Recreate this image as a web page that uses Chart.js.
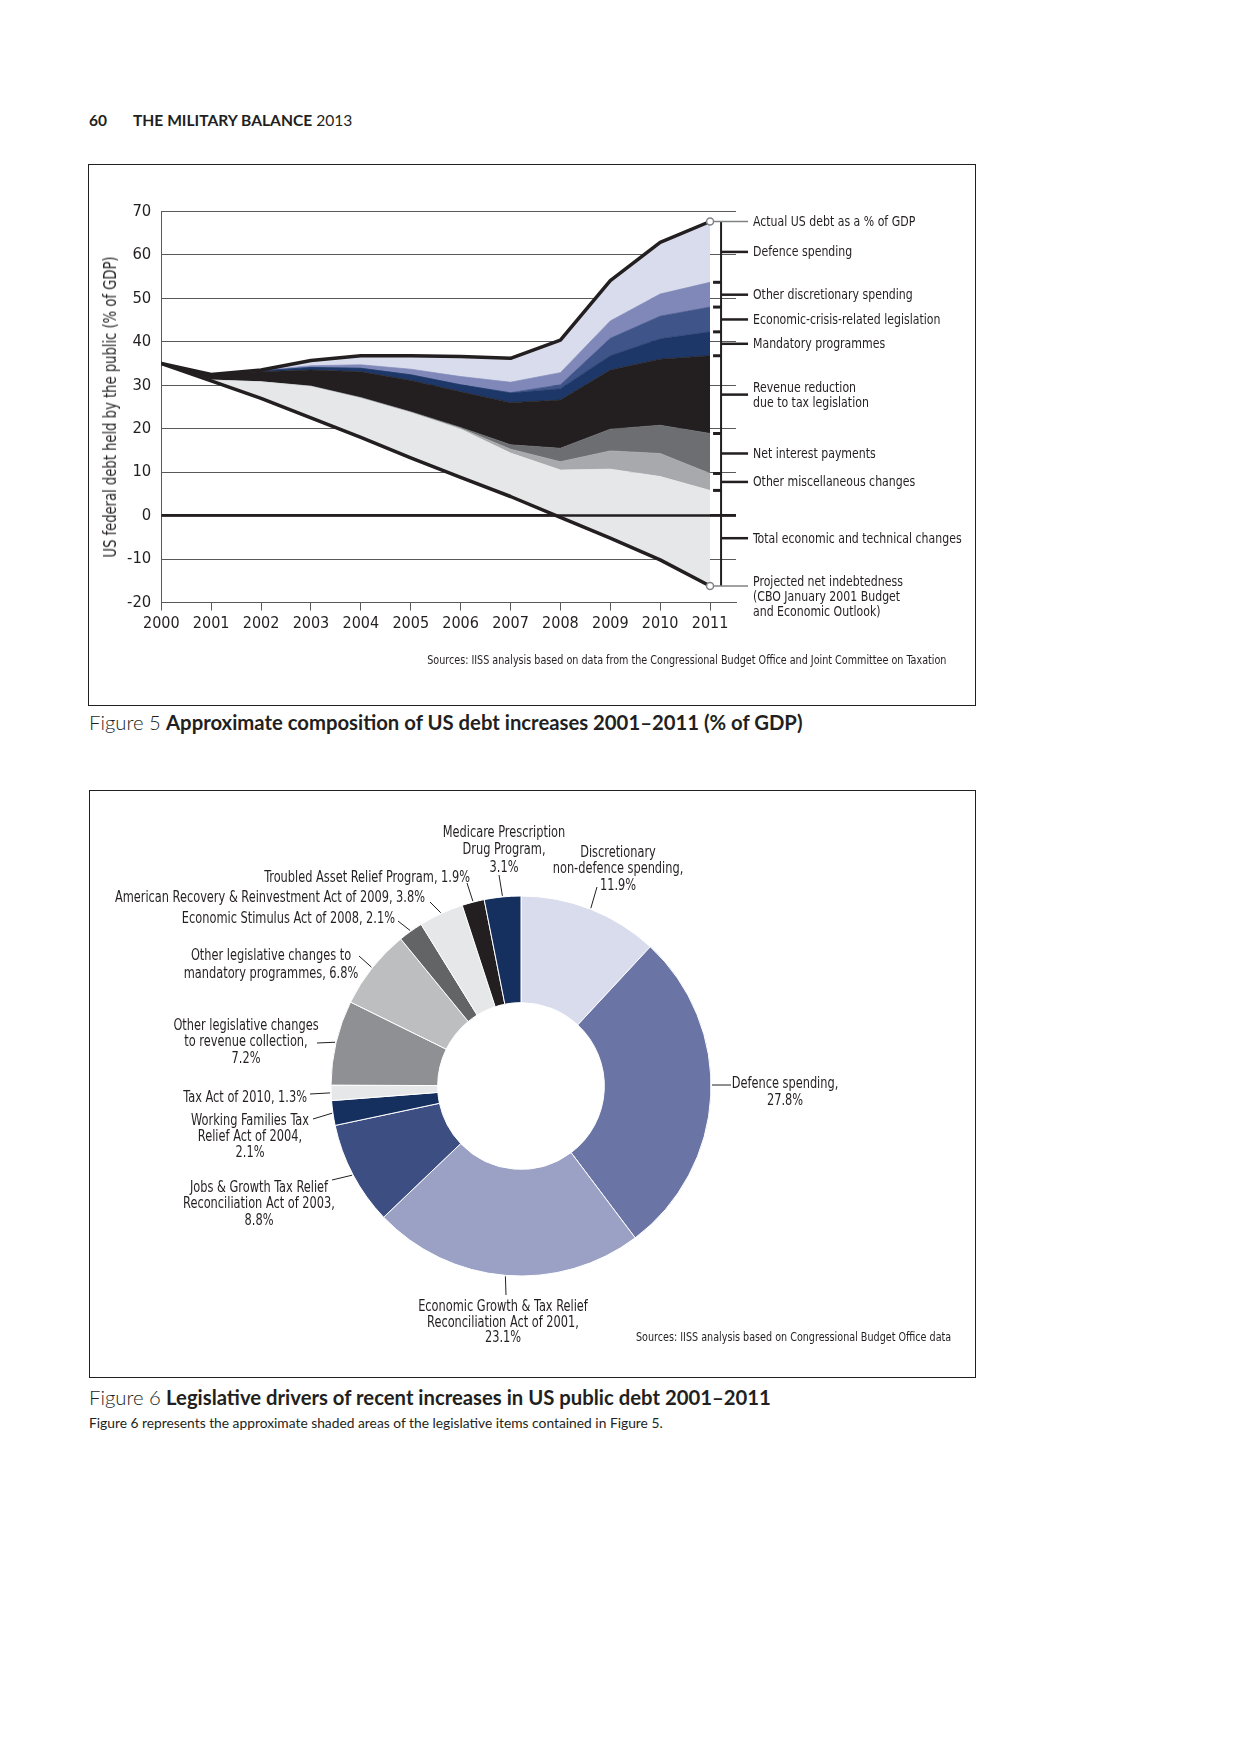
<!DOCTYPE html>
<html>
<head>
<meta charset="utf-8">
<title>The Military Balance 2013 – Figures 5 and 6</title>
<script src="https://cdn.jsdelivr.net/npm/chart.js@4.4.1/dist/chart.umd.min.js"></script>
<style>
  html, body { margin: 0; padding: 0; background: #fff; }
  #page { position: relative; width: 1240px; height: 1754px; overflow: hidden; background: #fff; color: #231f20;
          font-family: 'DejaVu Sans Condensed', 'Liberation Sans Narrow', sans-serif; }
  .abs { position: absolute; white-space: nowrap; }
  .box { position: absolute; border: 1px solid #231f20; box-sizing: border-box; }
  .book { font-family: Lato, 'Open Sans', sans-serif; }
  .caption { font-size: 20.3px; line-height: 24px; }
  .caption .light { font-weight: 300; }
  .caption b { font-weight: 700; }
  .src { font-size: 12px; line-height: 14px; transform: scaleX(0.89); transform-origin: right center; }
  canvas { position: absolute; }
</style>
</head>
<body>
<div id="page">
  <div class="abs book" style="left:89px;top:111px;font-size:15.5px;line-height:18px;font-weight:700;">60</div>
  <div class="abs book" style="left:133px;top:111px;font-size:15.6px;line-height:18px;"><b>THE MILITARY BALANCE</b> 2013</div>

  <div class="box" style="left:88px;top:164px;width:888px;height:542px;"></div>
  <canvas id="fig5" width="884" height="537" style="left:90px;top:166px;"></canvas>
  <div class="abs src" style="right:294px;top:653px;">Sources: IISS analysis based on data from the Congressional Budget Office and Joint Committee on Taxation</div>
  <div class="abs book caption" style="left:89px;top:710px;"><span class="light">Figure 5</span> <b>Approximate composition of US debt increases 2001–2011 (% of GDP)</b></div>

  <div class="box" style="left:89px;top:790px;width:887px;height:588px;"></div>
  <canvas id="fig6" width="884" height="585" style="left:90px;top:791px;"></canvas>
  <div class="abs src" style="right:289px;top:1330px;">Sources: IISS analysis based on Congressional Budget Office data</div>
  <div class="abs book caption" style="left:89px;top:1385px;"><span class="light">Figure 6</span> <b>Legislative drivers of recent increases in US public debt 2001–2011</b></div>
  <div class="abs book" style="left:89px;top:1415px;font-size:13.8px;line-height:16px;">Figure 6 represents the approximate shaded areas of the legislative items contained in Figure 5.</div>
</div>

<script>
// ---------- Figure 5: composition of US debt (% of GDP) ----------
const years = [2000, 2001, 2002, 2003, 2004, 2005, 2006, 2007, 2008, 2009, 2010, 2011];
const yTicks = [-20, -10, 0, 10, 20, 30, 40, 50, 60, 70];

// CBO January 2001 projection of net indebtedness
const projectedDebt = [35, 31.0, 27.0, 22.5, 18.0, 13.3, 8.8, 4.4, -0.4, -5.2, -10.2, -16.2];

// contributions piled on top of the projection, bottom to top
const econTechnical = [0, 0.2, 3.8, 7.2, 9.0, 10.4, 11.1, 10.0, 10.9, 15.9, 19.2, 22.0];
const otherMisc     = [0, 0, 0, 0.1, 0.1, 0.1, 0.2, 0.9, 1.9, 4.2, 5.3, 3.9];
const netInterest   = [0, 0, 0, 0, 0.1, 0.1, 0.2, 1.0, 3.1, 5.0, 6.5, 9.2];
const revenueCuts   = [0, 1.3, 2.3, 3.7, 5.9, 7.2, 8.2, 9.7, 11.1, 13.6, 15.2, 17.9];
const mandatoryProg = [0, 0, 0.2, 0.6, 0.8, 1.3, 1.6, 2.2, 2.6, 3.3, 4.7, 5.5];
const crisisLaw     = [0, 0, 0, 0, 0, 0, 0, 0.1, 0.9, 4.0, 5.2, 5.7];
const otherDiscr    = [0, 0, 0.1, 0.4, 0.8, 1.3, 1.9, 2.4, 2.8, 4.0, 5.1, 5.7];
const defenceSpend  = [0, 0, 0.1, 1.2, 2.1, 3.1, 4.6, 5.5, 7.5, 9.3, 11.9, 14.0];

const layerNames = [
  'Total economic and technical changes',
  'Other miscellaneous changes',
  'Net interest payments',
  'Revenue reduction\ndue to tax legislation',
  'Mandatory programmes',
  'Economic-crisis-related legislation',
  'Other discretionary spending',
  'Defence spending'
];
const actualName = 'Actual US debt as a % of GDP';
const projectedName = 'Projected net indebtedness\n(CBO January 2001 Budget\nand Economic Outlook)';
const yTitle = 'US federal debt held by the public (% of GDP)';

// ---------- Figure 6: legislative drivers (% share) ----------
const drivers = [
  'Discretionary non-defence spending',
  'Defence spending',
  'Economic Growth & Tax Relief Reconciliation Act of 2001',
  'Jobs & Growth Tax Relief Reconciliation Act of 2003',
  'Working Families Tax Relief Act of 2004',
  'Tax Act of 2010',
  'Other legislative changes to revenue collection',
  'Other legislative changes to mandatory programmes',
  'Economic Stimulus Act of 2008',
  'American Recovery & Reinvestment Act of 2009',
  'Troubled Asset Relief Program',
  'Medicare Prescription Drug Program'
];
const shares = [11.9, 27.8, 23.1, 8.8, 2.1, 1.3, 7.2, 6.8, 2.1, 3.8, 1.9, 3.1];

// ---------- styles ----------
const COND = "'DejaVu Sans Condensed', 'Liberation Sans Narrow', sans-serif";
const INK = '#231f20';
const GRID = '#58595b';
const layerColors = ['#e6e7e8', '#a7a9ac', '#6d6e71', '#231f20', '#1d3868', '#3f5489', '#7f88b8', '#d9dcec'];
const sliceColors = ['#d9dcec', '#6a74a5', '#9aa1c5', '#3d4e83', '#15305f', '#e6e7e8',
                     '#8f9093', '#bcbec0', '#636466', '#e6e7e8', '#231f20', '#15305f'];

const FIG5 = { left: 90, top: 166 };
const FIG6 = { left: 90, top: 791 };

// label layout for the doughnut ('#' is replaced by the share);
// flat: leader runs horizontally from the ring edge
const driverLabels = [
  { lines: ['Discretionary', 'non-defence spending,', '#'], x: 618, y: 852, lh: 16.5, align: 'center', anchor: [597, 887] },
  { lines: ['Defence spending,', '#'], x: 785, y: 1082, lh: 17, align: 'center', anchor: [731, 1085], flat: true },
  { lines: ['Economic Growth & Tax Relief', 'Reconciliation Act of 2001,', '#'], x: 503, y: 1306, lh: 15.5, align: 'center', anchor: [506, 1295] },
  { lines: ['Jobs & Growth Tax Relief', 'Reconciliation Act of 2003,', '#'], x: 259, y: 1187, lh: 16.5, align: 'center', anchor: [332, 1180] },
  { lines: ['Working Families Tax', 'Relief Act of 2004,', '#'], x: 250, y: 1120, lh: 16, align: 'center', anchor: [313, 1119] },
  { lines: ['Tax Act of 2010, #'], x: 307, y: 1096.5, lh: 16, align: 'right', anchor: [310, 1094] },
  { lines: ['Other legislative changes', 'to revenue collection,', '#'], x: 246, y: 1025, lh: 16.7, align: 'center', anchor: [317, 1043] },
  { lines: ['Other legislative changes to', 'mandatory programmes, #'], x: 271, y: 955, lh: 18, align: 'center', anchor: [359, 956] },
  { lines: ['Economic Stimulus Act of 2008, #'], x: 395, y: 917.7, lh: 16, align: 'right', anchor: [398, 921] },
  { lines: ['American Recovery & Reinvestment Act of 2009, #'], x: 425, y: 897.3, lh: 16, align: 'right', anchor: [430, 902] },
  { lines: ['Troubled Asset Relief Program, #'], x: 470, y: 876.7, lh: 16, align: 'right', anchor: [467, 883] },
  { lines: ['Medicare Prescription', 'Drug Program,', '#'], x: 504, y: 831.5, lh: 17.5, align: 'center', anchor: [499, 875] }
];

Chart.defaults.font.family = COND;
Chart.defaults.color = INK;

const page = document.getElementById('page');

// places a block of condensed text; y is the centre of the first line
function placeText(lines, x, y, align, lh, size, squeeze) {
  const div = document.createElement('div');
  div.className = 'abs';
  div.style.left = x + 'px';
  div.style.top = (y - lh / 2) + 'px';
  div.style.fontSize = size + 'px';
  div.style.lineHeight = lh + 'px';
  div.style.textAlign = align;
  if (align === 'center') {
    div.style.transformOrigin = 'center center';
    div.style.transform = 'translateX(-50%) scaleX(' + squeeze + ')';
  } else if (align === 'right') {
    div.style.transformOrigin = 'right center';
    div.style.transform = 'translateX(-100%) scaleX(' + squeeze + ')';
  } else {
    div.style.transformOrigin = 'left center';
    div.style.transform = 'scaleX(' + squeeze + ')';
  }
  lines.forEach((t, i) => {
    if (i) div.appendChild(document.createElement('br'));
    div.appendChild(document.createTextNode(t));
  });
  page.appendChild(div);
  return div;
}

// ---------- build the boundaries of each band ----------
const layers = [econTechnical, otherMisc, netInterest, revenueCuts, mandatoryProg, crisisLaw, otherDiscr, defenceSpend];
const bounds = [];
let running = projectedDebt.slice();
layers.forEach(l => {
  running = running.map((v, i) => +(v + l[i]).toFixed(2));
  bounds.push(running);
});
const actualDebt = bounds[bounds.length - 1];
const last = years.length - 1;
const pts = arr => arr.map((v, i) => ({ x: years[i], y: v }));

const endCircle = c => (c.dataIndex === last ? 3.5 : 0);
const heavyLine = {
  borderColor: INK, borderWidth: 3.5, fill: false,
  pointRadius: endCircle, pointBackgroundColor: '#ffffff', pointBorderColor: '#808285', pointBorderWidth: 1.5,
  borderJoinStyle: 'round', borderCapStyle: 'round'
};

const datasets5 = [
  Object.assign({ label: actualName, data: pts(actualDebt) }, heavyLine),
  Object.assign({ label: projectedName, data: pts(projectedDebt) }, heavyLine)
];
layers.forEach((l, k) => {
  datasets5.push({
    label: layerNames[k],
    data: pts(bounds[k]),
    backgroundColor: layerColors[k],
    borderColor: layerColors[k],
    borderWidth: 0.75,
    pointRadius: 0,
    fill: k + 1
  });
});

// zero line on top of the areas + the bracket of labels on the right
const bracketPlugin = {
  id: 'bracket',
  afterDatasetsDraw(chart) {
    const { ctx, chartArea, scales: { x, y } } = chart;
    const seg = (x1, y1, x2, y2) => { ctx.beginPath(); ctx.moveTo(x1, y1); ctx.lineTo(x2, y2); ctx.stroke(); };
    ctx.save();
    ctx.strokeStyle = INK;
    ctx.lineWidth = 2.5;
    const y0 = y.getPixelForValue(0);
    seg(chartArea.left, y0, chartArea.right, y0);

    const xe = x.getPixelForValue(years[last]);
    const bx = xe + 11;
    const yTop = y.getPixelForValue(actualDebt[last]);
    const yBot = y.getPixelForValue(projectedDebt[last]);
    ctx.lineWidth = 2;
    seg(bx, yTop, bx, yBot);
    ctx.lineWidth = 3;
    bounds.slice(0, -1).forEach(b => {
      const py = y.getPixelForValue(b[last]);
      seg(xe + 3, py, bx, py);
    });
    ctx.lineWidth = 2.5;
    layers.forEach((l, k) => {
      const lo = k === 0 ? projectedDebt[last] : bounds[k - 1][last];
      const py = y.getPixelForValue((lo + bounds[k][last]) / 2);
      seg(bx, py, bx + 27, py);
    });
    ctx.strokeStyle = '#808285';
    ctx.lineWidth = 1.5;
    seg(xe + 4, yTop, bx + 27, yTop);
    seg(xe + 4, yBot, bx + 27, yBot);
    ctx.restore();
  }
};

const fig5 = new Chart(document.getElementById('fig5'), {
  type: 'line',
  data: { datasets: datasets5 },
  options: {
    responsive: false,
    animation: false,
    events: [],
    layout: { padding: { left: 0, top: 45.5, right: 238, bottom: 0 } },
    elements: { line: { tension: 0 } },
    plugins: { legend: { display: false }, tooltip: { enabled: false } },
    scales: {
      x: {
        type: 'linear',
        min: years[0],
        max: 2011.52,
        afterBuildTicks: s => { s.ticks = years.map(v => ({ value: v })); },
        afterFit: s => { s.height = 100.5; },
        grid: { drawOnChartArea: false, drawTicks: true, tickLength: 8, color: GRID, lineWidth: 1 },
        border: { display: true, color: GRID, width: 1 },
        ticks: { font: { size: 16 }, padding: 4, maxRotation: 0, autoSkip: false, callback: v => String(v) }
      },
      y: {
        min: yTicks[0],
        max: yTicks[yTicks.length - 1],
        afterBuildTicks: s => { s.ticks = yTicks.map(v => ({ value: v })); },
        afterFit: s => { s.width = 71.3; },
        grid: {
          drawTicks: false,
          color: c => (c.tick && c.tick.value === 0 ? INK : GRID),
          lineWidth: c => (c.tick && c.tick.value === 0 ? 2.5 : 1)
        },
        border: { display: true, color: GRID, width: 1 },
        ticks: { font: { size: 16.5 }, padding: 10, callback: v => String(v) },
        title: { display: false }
      }
    }
  },
  plugins: [bracketPlugin]
});

// axis title and the labels to the right of the bracket, placed from the scales
(function () {
  const x = fig5.scales.x, y = fig5.scales.y;
  const t = placeText([yTitle], 0, 0, 'left', 20, 17, 1);
  t.style.left = (FIG5.left + 20) + 'px';
  t.style.top = (FIG5.top + (y.top + y.bottom) / 2) + 'px';
  t.style.transformOrigin = 'center center';
  t.style.transform = 'translate(-50%, -50%) rotate(-90deg) scaleX(0.86)';

  const lx = FIG5.left + x.getPixelForValue(years[last]) + 43;
  const lh = 15;
  const sz = 14.5, sq = 0.84;
  placeText([actualName], lx, FIG5.top + y.getPixelForValue(actualDebt[last]), 'left', lh, sz, sq);
  layers.forEach((l, k) => {
    const lo = k === 0 ? projectedDebt[last] : bounds[k - 1][last];
    const lines = layerNames[k].split('\n');
    const mid = FIG5.top + y.getPixelForValue((lo + bounds[k][last]) / 2);
    placeText(lines, lx, mid - (lines.length - 1) * lh / 2, 'left', lh, sz, sq);
  });
  placeText(projectedName.split('\n'), lx, FIG5.top + y.getPixelForValue(projectedDebt[last]) - 4, 'left', lh, sz, sq);
})();

// ---------- Figure 6 doughnut ----------
const leaderPlugin = {
  id: 'leaders',
  afterDatasetsDraw(chart) {
    const { ctx } = chart;
    const arcs = chart.getDatasetMeta(0).data;
    ctx.save();
    ctx.strokeStyle = INK;
    ctx.lineWidth = 1;
    arcs.forEach((arc, i) => {
      const p = arc.getProps(['x', 'y', 'startAngle', 'endAngle', 'outerRadius']);
      const d = driverLabels[i];
      const ax = d.anchor[0] - FIG6.left, ay = d.anchor[1] - FIG6.top;
      const r = p.outerRadius + 1;
      let sx, sy;
      if (d.flat) {
        const dy = ay - p.y;
        sx = p.x + Math.sign(ax - p.x) * Math.sqrt(Math.max(r * r - dy * dy, 0));
        sy = ay;
      } else {
        const mid = (p.startAngle + p.endAngle) / 2;
        sx = p.x + Math.cos(mid) * r;
        sy = p.y + Math.sin(mid) * r;
      }
      ctx.beginPath();
      ctx.moveTo(sx, sy);
      ctx.lineTo(ax, ay);
      ctx.stroke();
    });
    ctx.restore();
  }
};

new Chart(document.getElementById('fig6'), {
  type: 'doughnut',
  data: {
    labels: drivers,
    datasets: [{
      data: shares,
      backgroundColor: sliceColors,
      borderColor: '#ffffff',
      borderWidth: 1,
      radius: 190,
      cutout: 127
    }]
  },
  options: {
    responsive: false,
    animation: false,
    events: [],
    rotation: 0,
    layout: { padding: { left: 0, right: 22, top: 5, bottom: 0 } },
    plugins: { legend: { display: false }, tooltip: { enabled: false } }
  },
  plugins: [leaderPlugin]
});

driverLabels.forEach((d, i) => {
  const lines = d.lines.map(t => t.replace('#', shares[i].toFixed(1) + '%'));
  placeText(lines, d.x, d.y, d.align, d.lh, 16, 0.79);
});
</script>
</body>
</html>
